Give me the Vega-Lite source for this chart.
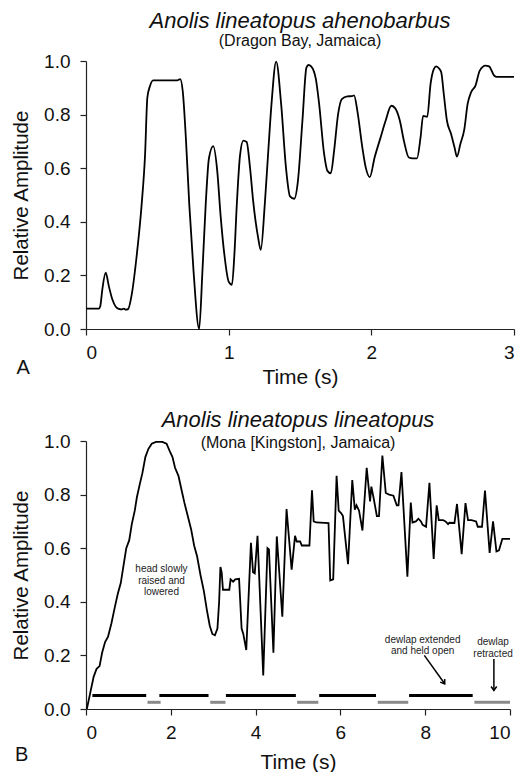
{
  "$schema": "https://vega.github.io/schema/vega-lite/v6.json",
  "padding": {"left": 11, "top": 10, "right": 5, "bottom": 0},
  "spacing": 22,
  "config": {
    "font": "Liberation Sans",
    "view": {"stroke": null},
    "axis": {"grid": false, "domainColor": "#222", "tickColor": "#222", "labelColor": "#111", "titleColor": "#111", "labelFontSize": 19, "titleFontSize": 21, "titleFontWeight": "normal", "tickSize": 6, "domainWidth": 1.2, "tickWidth": 1.2},
    "axisY": {"titleFontSize": 20.5},
    "title": {"fontSize": 22, "fontStyle": "italic", "fontWeight": "normal", "subtitleFontSize": 16, "subtitleFontStyle": "normal", "subtitleColor": "#111", "color": "#111", "anchor": "middle"}
  },
  "datasets": {
    "a": [
      {"t": 0, "v": 0.076}, {"t": 0.09, "v": 0.076}, {"t": 0.1, "v": 0.085}, {"t": 0.115, "v": 0.15}, {"t": 0.138, "v": 0.21},
      {"t": 0.16, "v": 0.16}, {"t": 0.185, "v": 0.11}, {"t": 0.21, "v": 0.082}, {"t": 0.23, "v": 0.075}, {"t": 0.25, "v": 0.073},
      {"t": 0.265, "v": 0.076}, {"t": 0.28, "v": 0.072}, {"t": 0.295, "v": 0.074}, {"t": 0.32, "v": 0.127}, {"t": 0.356, "v": 0.277},
      {"t": 0.39, "v": 0.464}, {"t": 0.414, "v": 0.65}, {"t": 0.43, "v": 0.863}, {"t": 0.448, "v": 0.906}, {"t": 0.47, "v": 0.928},
      {"t": 0.64, "v": 0.928}, {"t": 0.66, "v": 0.932}, {"t": 0.678, "v": 0.888}, {"t": 0.7, "v": 0.713}, {"t": 0.724, "v": 0.464},
      {"t": 0.754, "v": 0.214}, {"t": 0.793, "v": 0.0}, {"t": 0.816, "v": 0.214}, {"t": 0.839, "v": 0.464}, {"t": 0.862, "v": 0.638},
      {"t": 0.892, "v": 0.682}, {"t": 0.92, "v": 0.589}, {"t": 0.943, "v": 0.426}, {"t": 0.97, "v": 0.277}, {"t": 1.0, "v": 0.177},
      {"t": 1.023, "v": 0.165}, {"t": 1.04, "v": 0.277}, {"t": 1.057, "v": 0.464}, {"t": 1.08, "v": 0.65}, {"t": 1.103, "v": 0.703},
      {"t": 1.126, "v": 0.698}, {"t": 1.15, "v": 0.6}, {"t": 1.172, "v": 0.476}, {"t": 1.207, "v": 0.339}, {"t": 1.225, "v": 0.295},
      {"t": 1.253, "v": 0.464}, {"t": 1.276, "v": 0.65}, {"t": 1.3, "v": 0.838}, {"t": 1.333, "v": 0.998}, {"t": 1.368, "v": 0.838},
      {"t": 1.402, "v": 0.6}, {"t": 1.43, "v": 0.495}, {"t": 1.46, "v": 0.486}, {"t": 1.485, "v": 0.55}, {"t": 1.517, "v": 0.777},
      {"t": 1.545, "v": 0.975}, {"t": 1.56, "v": 0.985}, {"t": 1.578, "v": 0.98}, {"t": 1.611, "v": 0.933}, {"t": 1.634, "v": 0.84},
      {"t": 1.669, "v": 0.653}, {"t": 1.692, "v": 0.59}, {"t": 1.716, "v": 0.581}, {"t": 1.739, "v": 0.665}, {"t": 1.767, "v": 0.802},
      {"t": 1.793, "v": 0.858}, {"t": 1.832, "v": 0.868}, {"t": 1.865, "v": 0.869}, {"t": 1.879, "v": 0.872}, {"t": 1.902, "v": 0.814},
      {"t": 1.937, "v": 0.677}, {"t": 1.961, "v": 0.602}, {"t": 1.989, "v": 0.567}, {"t": 2.023, "v": 0.64}, {"t": 2.065, "v": 0.715},
      {"t": 2.1, "v": 0.777}, {"t": 2.14, "v": 0.833}, {"t": 2.165, "v": 0.825}, {"t": 2.2, "v": 0.777}, {"t": 2.228, "v": 0.703},
      {"t": 2.263, "v": 0.64}, {"t": 2.29, "v": 0.637}, {"t": 2.32, "v": 0.637}, {"t": 2.345, "v": 0.715}, {"t": 2.363, "v": 0.795},
      {"t": 2.392, "v": 0.792}, {"t": 2.415, "v": 0.914}, {"t": 2.438, "v": 0.97}, {"t": 2.455, "v": 0.98}, {"t": 2.475, "v": 0.972},
      {"t": 2.49, "v": 0.958}, {"t": 2.508, "v": 0.876}, {"t": 2.53, "v": 0.777}, {"t": 2.559, "v": 0.728}, {"t": 2.583, "v": 0.678},
      {"t": 2.6, "v": 0.643}, {"t": 2.624, "v": 0.69}, {"t": 2.652, "v": 0.746}, {"t": 2.675, "v": 0.84}, {"t": 2.699, "v": 0.883},
      {"t": 2.73, "v": 0.908}, {"t": 2.76, "v": 0.964}, {"t": 2.8, "v": 0.983}, {"t": 2.825, "v": 0.98}, {"t": 2.862, "v": 0.945},
      {"t": 2.88, "v": 0.941}, {"t": 3.0, "v": 0.941}
    ],
    "b": [
      {"t": 0.02, "v": 0.0}, {"t": 0.1, "v": 0.06}, {"t": 0.18, "v": 0.12}, {"t": 0.25, "v": 0.15}, {"t": 0.32, "v": 0.16},
      {"t": 0.38, "v": 0.21}, {"t": 0.45, "v": 0.25}, {"t": 0.52, "v": 0.27}, {"t": 0.6, "v": 0.32}, {"t": 0.68, "v": 0.38},
      {"t": 0.75, "v": 0.43}, {"t": 0.82, "v": 0.47}, {"t": 0.88, "v": 0.53}, {"t": 0.95, "v": 0.6}, {"t": 1.02, "v": 0.63},
      {"t": 1.08, "v": 0.69}, {"t": 1.15, "v": 0.74}, {"t": 1.2, "v": 0.79}, {"t": 1.27, "v": 0.84}, {"t": 1.33, "v": 0.88},
      {"t": 1.4, "v": 0.94}, {"t": 1.47, "v": 0.97}, {"t": 1.55, "v": 0.99}, {"t": 1.65, "v": 0.997}, {"t": 1.8, "v": 0.997},
      {"t": 1.9, "v": 0.99}, {"t": 1.98, "v": 0.96}, {"t": 2.04, "v": 0.94}, {"t": 2.1, "v": 0.9}, {"t": 2.18, "v": 0.87},
      {"t": 2.25, "v": 0.82}, {"t": 2.32, "v": 0.77}, {"t": 2.4, "v": 0.72}, {"t": 2.48, "v": 0.67}, {"t": 2.55, "v": 0.61},
      {"t": 2.62, "v": 0.57}, {"t": 2.7, "v": 0.5}, {"t": 2.78, "v": 0.44}, {"t": 2.85, "v": 0.37}, {"t": 2.92, "v": 0.31},
      {"t": 2.98, "v": 0.28}, {"t": 3.04, "v": 0.275}, {"t": 3.1, "v": 0.3}, {"t": 3.14, "v": 0.4}, {"t": 3.17, "v": 0.53},
      {"t": 3.2, "v": 0.51}, {"t": 3.23, "v": 0.445}, {"t": 3.38, "v": 0.445}, {"t": 3.41, "v": 0.484}, {"t": 3.47, "v": 0.475},
      {"t": 3.52, "v": 0.484}, {"t": 3.61, "v": 0.486}, {"t": 3.67, "v": 0.3}, {"t": 3.71, "v": 0.28}, {"t": 3.78, "v": 0.22},
      {"t": 3.89, "v": 0.62}, {"t": 3.94, "v": 0.51}, {"t": 3.98, "v": 0.506}, {"t": 4.045, "v": 0.646}, {"t": 4.18, "v": 0.125},
      {"t": 4.28, "v": 0.6}, {"t": 4.315, "v": 0.595}, {"t": 4.42, "v": 0.21}, {"t": 4.5, "v": 0.644}, {"t": 4.63, "v": 0.344},
      {"t": 4.73, "v": 0.746}, {"t": 4.85, "v": 0.52}, {"t": 4.93, "v": 0.646}, {"t": 4.97, "v": 0.625}, {"t": 5.05, "v": 0.625},
      {"t": 5.09, "v": 0.61}, {"t": 5.27, "v": 0.61}, {"t": 5.33, "v": 0.816}, {"t": 5.37, "v": 0.7}, {"t": 5.43, "v": 0.696},
      {"t": 5.72, "v": 0.694}, {"t": 5.76, "v": 0.48}, {"t": 5.83, "v": 0.484}, {"t": 5.91, "v": 0.87}, {"t": 5.96, "v": 0.74},
      {"t": 6.02, "v": 0.73}, {"t": 6.06, "v": 0.72}, {"t": 6.18, "v": 0.54}, {"t": 6.28, "v": 0.854}, {"t": 6.34, "v": 0.744},
      {"t": 6.38, "v": 0.76}, {"t": 6.44, "v": 0.74}, {"t": 6.52, "v": 0.666}, {"t": 6.62, "v": 0.9}, {"t": 6.7, "v": 0.775},
      {"t": 6.73, "v": 0.83}, {"t": 6.78, "v": 0.79}, {"t": 6.86, "v": 0.72}, {"t": 6.91, "v": 0.72}, {"t": 6.99, "v": 0.946},
      {"t": 7.07, "v": 0.806}, {"t": 7.15, "v": 0.8}, {"t": 7.25, "v": 0.796}, {"t": 7.33, "v": 0.76}, {"t": 7.37, "v": 0.76},
      {"t": 7.44, "v": 0.884}, {"t": 7.58, "v": 0.494}, {"t": 7.66, "v": 0.77}, {"t": 7.7, "v": 0.696}, {"t": 7.78, "v": 0.7},
      {"t": 7.84, "v": 0.71}, {"t": 7.9, "v": 0.7}, {"t": 7.94, "v": 0.687}, {"t": 8.02, "v": 0.68}, {"t": 8.1, "v": 0.844},
      {"t": 8.2, "v": 0.56}, {"t": 8.27, "v": 0.76}, {"t": 8.32, "v": 0.705}, {"t": 8.42, "v": 0.705}, {"t": 8.48, "v": 0.7},
      {"t": 8.54, "v": 0.69}, {"t": 8.57, "v": 0.695}, {"t": 8.69, "v": 0.694}, {"t": 8.75, "v": 0.765}, {"t": 8.86, "v": 0.578},
      {"t": 8.95, "v": 0.768}, {"t": 9.01, "v": 0.705}, {"t": 9.09, "v": 0.705}, {"t": 9.2, "v": 0.7}, {"t": 9.24, "v": 0.68},
      {"t": 9.34, "v": 0.68}, {"t": 9.41, "v": 0.815}, {"t": 9.52, "v": 0.582}, {"t": 9.6, "v": 0.7}, {"t": 9.68, "v": 0.588},
      {"t": 9.74, "v": 0.592}, {"t": 9.82, "v": 0.635}, {"t": 10.0, "v": 0.635}
    ],
    "bars": [
      {"s": 0.15, "e": 1.42, "state": "extended", "level": 0.05},
      {"s": 1.45, "e": 1.76, "state": "retracted", "level": 0.025},
      {"s": 1.73, "e": 2.89, "state": "extended", "level": 0.05},
      {"s": 2.93, "e": 3.29, "state": "retracted", "level": 0.025},
      {"s": 3.3, "e": 4.95, "state": "extended", "level": 0.05},
      {"s": 4.98, "e": 5.48, "state": "retracted", "level": 0.025},
      {"s": 5.5, "e": 6.84, "state": "extended", "level": 0.05},
      {"s": 6.88, "e": 7.6, "state": "retracted", "level": 0.025},
      {"s": 7.62, "e": 9.12, "state": "extended", "level": 0.05},
      {"s": 9.16, "e": 10.0, "state": "retracted", "level": 0.025}
    ]
  },
  "vconcat": [
    {
      "width": 428,
      "height": 268,
      "title": {"text": "Anolis lineatopus ahenobarbus", "subtitle": "(Dragon Bay, Jamaica)", "offset": 2, "subtitlePadding": 0},
      "layer": [
        {
          "data": {"name": "a"},
          "mark": {"type": "line", "interpolate": "monotone", "color": "#000", "strokeWidth": 1.8},
          "encoding": {
            "x": {"field": "t", "type": "quantitative", "scale": {"domain": [0, 3], "nice": false, "zero": false},
                  "axis": {"title": "Time (s)", "values": [0, 1, 2, 3], "format": "d", "labelPadding": 8, "titlePadding": 4}},
            "y": {"field": "v", "type": "quantitative", "scale": {"domain": [0, 1], "nice": false},
                  "axis": {"title": "Relative Amplitude", "values": [0, 0.2, 0.4, 0.6, 0.8, 1], "format": ".1f", "labelPadding": 10, "titlePadding": 12}}
          }
        },
        {
          "data": {"values": [{}]},
          "mark": {"type": "text", "text": "A", "fontSize": 20, "color": "#111"},
          "encoding": {"x": {"datum": -0.44, "type": "quantitative"}, "y": {"datum": -0.144, "type": "quantitative"}}
        }
      ]
    },
    {
      "width": 424,
      "height": 268,
      "title": {"text": "Anolis lineatopus lineatopus", "subtitle": "(Mona [Kingston], Jamaica)", "offset": -20, "subtitlePadding": 3},
      "layer": [
        {
          "data": {"name": "bars"},
          "mark": {"type": "rule", "strokeWidth": 3, "strokeCap": "butt"},
          "encoding": {
            "x": {"field": "s", "type": "quantitative", "scale": {"domain": [0, 10], "nice": false, "zero": false},
                  "axis": {"title": "Time (s)", "values": [0, 2, 4, 6, 8, 10], "format": "d", "labelPadding": 8, "titlePadding": 9}},
            "x2": {"field": "e"},
            "y": {"field": "level", "type": "quantitative", "scale": {"domain": [0, 1], "nice": false},
                  "axis": {"title": "Relative Amplitude", "values": [0, 0.2, 0.4, 0.6, 0.8, 1], "format": ".1f", "labelPadding": 10, "titlePadding": 12}},
            "color": {"field": "state", "type": "nominal", "scale": {"domain": ["extended", "retracted"], "range": ["#000000", "#8a8a8a"]}, "legend": null}
          }
        },
        {
          "data": {"name": "b"},
          "mark": {"type": "line", "interpolate": "linear", "color": "#000", "strokeWidth": 1.8},
          "encoding": {
            "x": {"field": "t", "type": "quantitative"},
            "y": {"field": "v", "type": "quantitative"}
          }
        },
        {
          "data": {"values": [{}]},
          "mark": {"type": "text", "text": ["head slowly", "raised and", "lowered"], "fontSize": 10, "lineHeight": 11.5, "baseline": "middle", "align": "center", "color": "#222"},
          "encoding": {"x": {"datum": 1.78, "type": "quantitative"}, "y": {"datum": 0.521, "type": "quantitative"}}
        },
        {
          "data": {"values": [{}]},
          "mark": {"type": "text", "text": ["dewlap extended", "and held open"], "fontSize": 10, "lineHeight": 11.5, "baseline": "middle", "align": "center", "color": "#222"},
          "encoding": {"x": {"datum": 7.94, "type": "quantitative"}, "y": {"datum": 0.259, "type": "quantitative"}}
        },
        {
          "data": {"values": [{}]},
          "mark": {"type": "text", "text": ["dewlap", "retracted"], "fontSize": 10, "lineHeight": 11.5, "baseline": "middle", "align": "center", "color": "#222"},
          "encoding": {"x": {"datum": 9.6, "type": "quantitative"}, "y": {"datum": 0.25, "type": "quantitative"}}
        },
        {
          "data": {"values": [{}]},
          "mark": {"type": "rule", "strokeWidth": 1.5, "color": "#000"},
          "encoding": {"x": {"datum": 7.98, "type": "quantitative"}, "y": {"datum": 0.2, "type": "quantitative"}, "x2": {"datum": 8.46}, "y2": {"datum": 0.094}}
        },
        {
          "data": {"values": [{}]},
          "mark": {"type": "rule", "strokeWidth": 1.5, "color": "#000"},
          "encoding": {"x": {"datum": 9.62, "type": "quantitative"}, "y": {"datum": 0.187, "type": "quantitative"}, "x2": {"datum": 9.62}, "y2": {"datum": 0.069}}
        },
        {
          "data": {"values": [{}]},
          "mark": {"type": "point", "shape": "M-0.7,-1L0,0L0.7,-1", "size": 64, "filled": false, "stroke": "#000", "strokeWidth": 1.5, "angle": 325, "opacity": 1},
          "encoding": {"x": {"datum": 8.46, "type": "quantitative"}, "y": {"datum": 0.094, "type": "quantitative"}}
        },
        {
          "data": {"values": [{}]},
          "mark": {"type": "point", "shape": "M-0.7,-1L0,0L0.7,-1", "size": 64, "filled": false, "stroke": "#000", "strokeWidth": 1.5, "angle": 0, "opacity": 1},
          "encoding": {"x": {"datum": 9.62, "type": "quantitative"}, "y": {"datum": 0.069, "type": "quantitative"}}
        },
        {
          "data": {"values": [{}]},
          "mark": {"type": "text", "text": "B", "fontSize": 20, "color": "#111"},
          "encoding": {"x": {"datum": -1.52, "type": "quantitative"}, "y": {"datum": -0.172, "type": "quantitative"}}
        }
      ]
    }
  ]
}
